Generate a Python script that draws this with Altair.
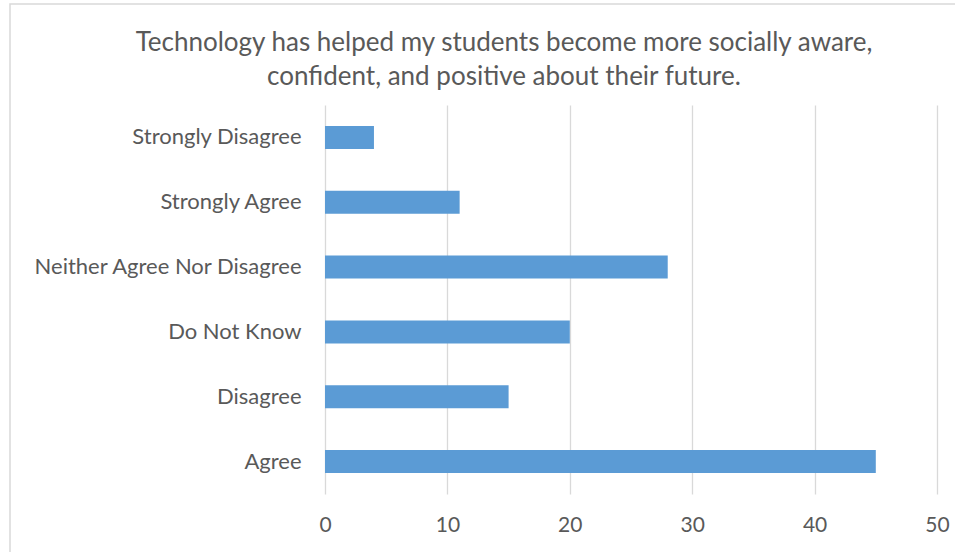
import altair as alt
import pandas as pd

categories = ["Strongly Disagree", "Strongly Agree", "Neither Agree Nor Disagree",
              "Do Not Know", "Disagree", "Agree"]
values = [4, 11, 28, 20, 15, 45]
x_ticks = [0, 10, 20, 30, 40, 50]
title_lines = ["Technology has helped my students become more socially aware,",
               "confident, and positive about their future."]

df = pd.DataFrame({"category": categories, "value": values})
one = pd.DataFrame({"line1": [title_lines[0]], "line2": [title_lines[1]]})

FONT = "Lato"
TEXT = "#595959"
GRID = "#d9d9d9"

bars = alt.Chart(df).mark_bar(color="#5b9bd5").encode(
    x=alt.X("value:Q",
            scale=alt.Scale(domain=[0, 50], nice=False),
            axis=alt.Axis(values=x_ticks, title=None, domain=False, ticks=False,
                          grid=True, gridColor=GRID, gridWidth=1.3,
                          labelFont=FONT, labelFontSize=21, labelColor=TEXT,
                          labelFlush=False, labelPadding=20)),
    y=alt.Y("category:N", sort=categories,
            scale=alt.Scale(paddingInner=0.646, paddingOuter=0.323),
            axis=alt.Axis(title=None, domain=False, ticks=False, grid=False,
                          labelFont=FONT, labelFontSize=22, labelColor=TEXT,
                          labelPadding=24, labelLimit=400)),
)

border = alt.Chart(one).mark_rect(fill=None, stroke=GRID, strokeWidth=1.5, clip=False).encode(
    x=alt.value(-315), x2=alt.value(680), y=alt.value(-101), y2=alt.value(480)
)

title1 = alt.Chart(one).mark_text(font=FONT, fontSize=26, fontWeight=400, color=TEXT,
                                  align="center", baseline="middle").encode(
    text="line1:N", x=alt.value(179), y=alt.value(-62)
)
title2 = alt.Chart(one).mark_text(font=FONT, fontSize=26, fontWeight=400, color=TEXT,
                                  align="center", baseline="middle").encode(
    text="line2:N", x=alt.value(179), y=alt.value(-28)
)

chart = alt.layer(border, bars, title1, title2).properties(
    width=612,
    height=389,
    background="white",
    autosize=alt.AutoSizeParams(type="none"),
    padding={"left": 325, "top": 105, "right": 18, "bottom": 58},
).configure_view(stroke=None)

chart.save("out.html", embed_options={"renderer": "svg", "actions": False})
